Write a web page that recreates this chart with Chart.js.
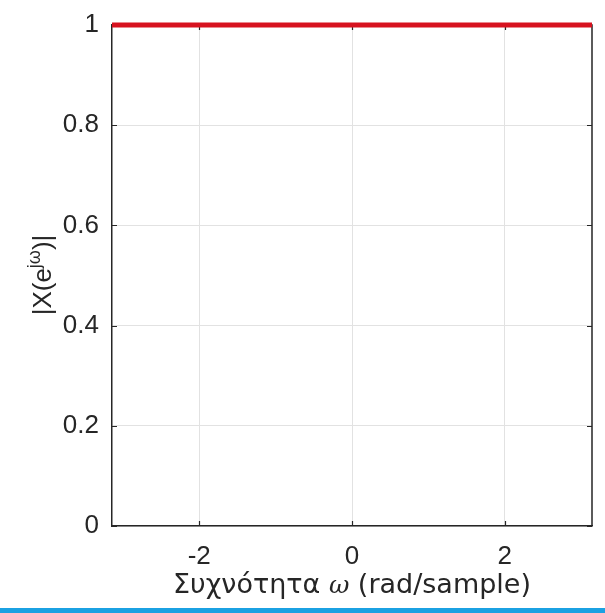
<!DOCTYPE html>
<html><head><meta charset="utf-8">
<script src="https://cdn.jsdelivr.net/npm/chart.js@4/dist/chart.umd.min.js"></script>
<style>
html,body{margin:0;padding:0;background:#fff;overflow:hidden}
#wrap{position:relative;width:605px;height:613px}
#bar{position:absolute;left:0;right:0;bottom:0;height:5px;background:#1ba1e2}
</style></head><body>
<div id="wrap"><canvas id="c" width="605" height="613"></canvas><div id="bar"></div></div>
<script>
const omega = [-3.1416, -2, -1, 0, 1, 2, 3.1416];
const magnitude = [1, 1, 1, 1, 1, 1, 1];
const xTicks = [-2, 0, 2];
const yTicks = [0, 0.2, 0.4, 0.6, 0.8, 1];
const xTitleParts = ['Συχνότητα ', 'ω', ' (rad/sample)'];
const yTitleParts = ['|X(e', 'jω', ')|'];

const FONT = '"Liberation Sans", Arial, sans-serif';
const XFONT = '"DejaVu Sans", Verdana, sans-serif';
const TXT = '#262626';
const TICKFS = 26;
const TITLEFS = 26;
const XTITLEFS = 27;

const decor = {
  id: 'decor',
  beforeDatasetsDraw(chart) {
    const {ctx, chartArea: a, scales: {x, y}} = chart;
    ctx.save();
    ctx.strokeStyle = '#262626';
    ctx.lineWidth = 1.5;
    ctx.beginPath();
    ctx.moveTo(a.right, a.bottom); ctx.lineTo(a.right, a.top); ctx.lineTo(a.left, a.top);
    ctx.stroke();
    ctx.lineWidth = 1.2;
    const L = 5;
    ctx.beginPath();
    xTicks.forEach(v => {
      const px = Math.round(x.getPixelForValue(v)) + 0.5;
      ctx.moveTo(px, a.bottom); ctx.lineTo(px, a.bottom - L);
      ctx.moveTo(px, a.top); ctx.lineTo(px, a.top + L);
    });
    yTicks.forEach(v => {
      const py = Math.round(y.getPixelForValue(v)) + 0.5;
      ctx.moveTo(a.left, py); ctx.lineTo(a.left + L, py);
      ctx.moveTo(a.right, py); ctx.lineTo(a.right - L, py);
    });
    ctx.stroke();
    ctx.restore();
  },
  afterDraw(chart) {
    const {ctx, chartArea: a} = chart;
    ctx.save();
    ctx.fillStyle = TXT;
    ctx.textBaseline = 'alphabetic';
    // x title
    const xN = XTITLEFS + 'px ' + XFONT, xI = 'italic ' + (XTITLEFS - 2) + 'px "DejaVu Serif", serif';
    ctx.font = xN; const w0 = ctx.measureText(xTitleParts[0]).width, w2 = ctx.measureText(xTitleParts[2]).width;
    ctx.font = xI; const w1 = ctx.measureText(xTitleParts[1]).width;
    const cx = 352;
    let sx = cx - (w0 + w1 + w2) / 2;
    const by = 593;
    ctx.textAlign = 'left';
    ctx.font = xN; ctx.fillText(xTitleParts[0], sx, by); sx += w0;
    ctx.font = xI; ctx.fillText(xTitleParts[1], sx, by); sx += w1;
    ctx.font = xN; ctx.fillText(xTitleParts[2], sx, by);
    // y title
    const fN = TITLEFS + 'px ' + FONT;
    ctx.translate(51, 275);
    ctx.rotate(-Math.PI / 2);
    const fS = Math.round(TITLEFS * 0.68) + 'px ' + FONT;
    ctx.font = fN; const v0 = ctx.measureText(yTitleParts[0]).width, v2 = ctx.measureText(yTitleParts[2]).width;
    ctx.font = fS; const v1 = ctx.measureText(yTitleParts[1]).width;
    let ty = -(v0 + v1 + v2) / 2;
    ctx.font = fN; ctx.fillText(yTitleParts[0], ty, 0); ty += v0;
    ctx.font = fS; ctx.fillText(yTitleParts[1], ty, -TITLEFS * 0.42); ty += v1;
    ctx.font = fN; ctx.fillText(yTitleParts[2], ty, 0);
    ctx.restore();
  }
};

new Chart(document.getElementById('c'), {
  type: 'line',
  data: {
    datasets: [{
      data: omega.map((w, i) => ({x: w, y: magnitude[i]})),
      borderColor: '#d7121f',
      borderWidth: 5,
      pointRadius: 0,
      tension: 0,
      clip: false
    }]
  },
  options: {
    responsive: false,
    devicePixelRatio: 1,
    animation: false,
    layout: {padding: {top: 25, right: 13, left: 0, bottom: 0}},
    plugins: {legend: {display: false}, tooltip: {enabled: false}},
    scales: {
      x: {
        type: 'linear', min: -3.1416, max: 3.1416,
        afterBuildTicks: s => { s.ticks = xTicks.map(v => ({value: v})); },
        afterFit: s => { s.height = 87; s.paddingLeft = 0; s.paddingRight = 0; },
        grid: {color: '#e2e2e2', lineWidth: 1, drawTicks: false},
        border: {display: true, color: '#262626', width: 1.5},
        ticks: {color: TXT, font: {family: FONT, size: TICKFS}, padding: 15, maxRotation: 0,
          callback: v => String(v)}
      },
      y: {
        type: 'linear', min: 0, max: 1,
        afterBuildTicks: s => { s.ticks = yTicks.map(v => ({value: v})); },
        afterFit: s => { s.width = 112; s.paddingTop = 0; s.paddingBottom = 0; },
        grid: {color: '#e2e2e2', lineWidth: 1, drawTicks: false},
        border: {display: true, color: '#262626', width: 1.5},
        ticks: {color: TXT, font: {family: FONT, size: TICKFS}, padding: 13,
          callback: v => String(v)}
      }
    }
  },
  plugins: [decor]
});
</script>
</body></html>
